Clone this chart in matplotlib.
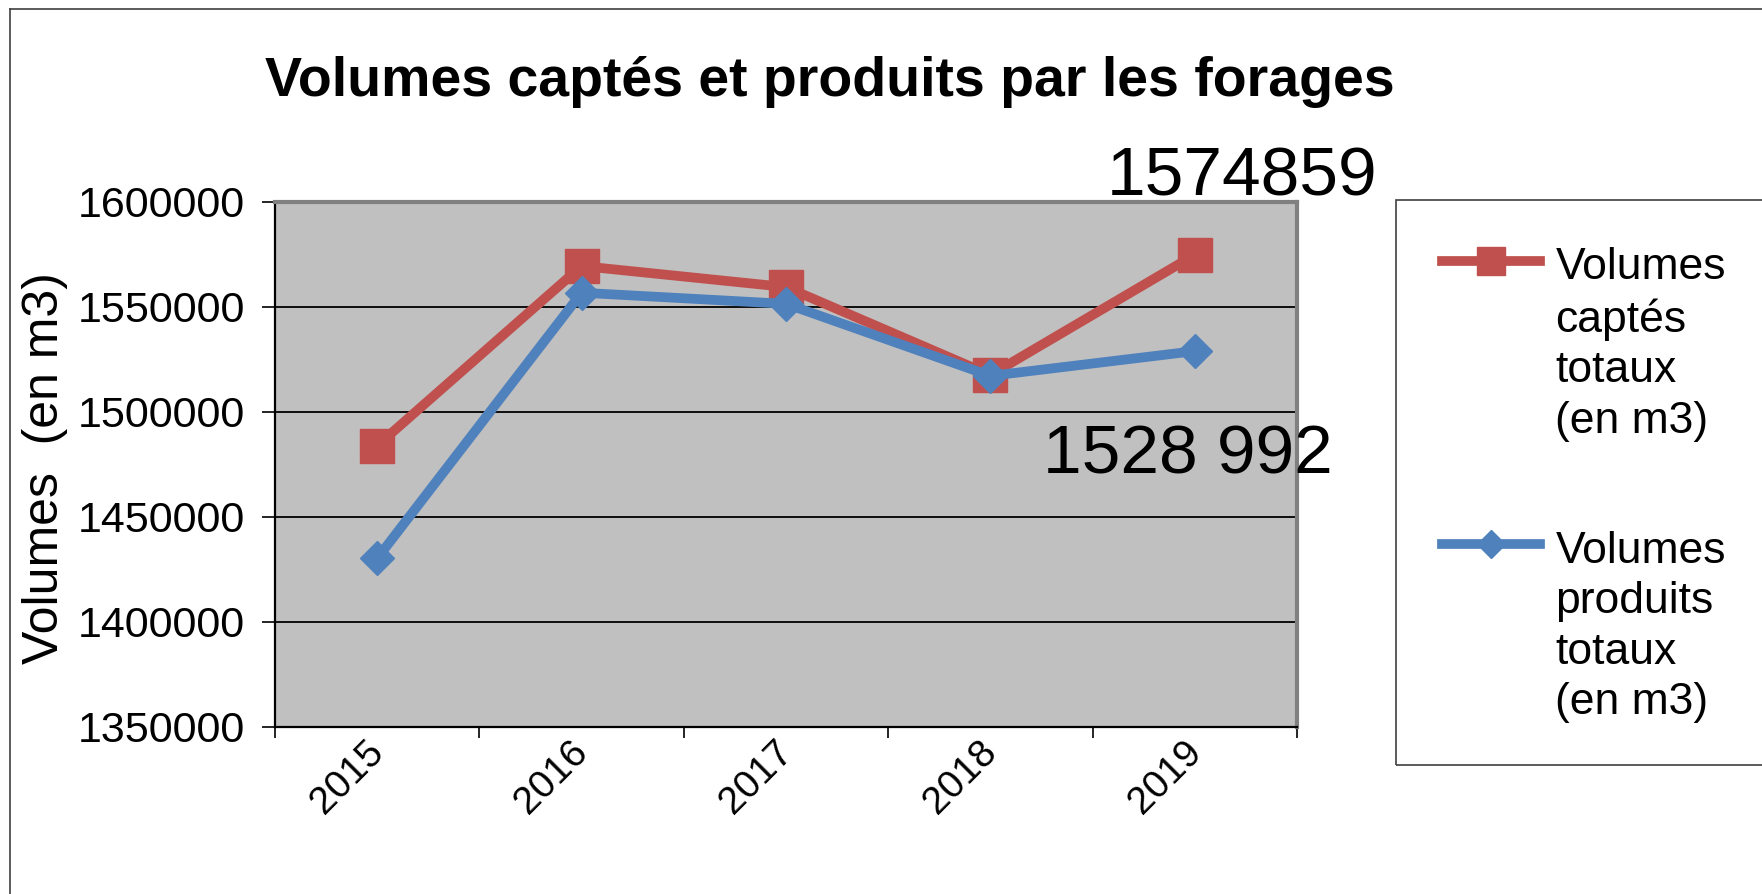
import numpy as np
import matplotlib
matplotlib.use("Agg")
import matplotlib.pyplot as plt
from matplotlib.legend_handler import HandlerLine2D
from matplotlib.lines import Line2D
from matplotlib.patches import Rectangle
from matplotlib.transforms import ScaledTranslation

# ---- data ----
years = ["2015", "2016", "2017", "2018", "2019"]
captes = [1484000, 1569500, 1559500, 1517600, 1574859]
produits = [1430300, 1556800, 1551500, 1517200, 1528992]
series_labels = ["Volumes\ncaptés\ntotaux\n(en m3)", "Volumes\nproduits\ntotaux\n(en m3)"]
end_labels = ["1574859", "1528 992"]
yticks = [1350000, 1400000, 1450000, 1500000, 1550000, 1600000]
title = "Volumes captés et produits par les forages"
ylabel = "Volumes  (en m3)"

plt.rcParams['font.family'] = ['Liberation Sans', 'DejaVu Sans']

W, H = 1762, 894
fig = plt.figure(figsize=(W / 100, H / 100), dpi=100)
ax = fig.add_axes([275 / W, 1 - 727 / H, (1297 - 275) / W, (727 - 202) / H])
ax.set_facecolor('#C0C0C0')
ax.set_axisbelow(True)

red = '#C0504D'
blue = '#4F81BD'
x = np.arange(len(years))
l1, = ax.plot(x, captes, color=red, lw=7, marker='s', ms=25, zorder=3)
l2, = ax.plot(x, produits, color=blue, lw=7, marker='D', ms=17.5, zorder=4)

ax.set_xlim(-0.5, len(years) - 0.5)
ax.set_ylim(yticks[0], yticks[-1])
ax.set_yticks(yticks)
ax.set_yticklabels([str(v) for v in yticks], fontsize=31)
ax.tick_params(axis='y', length=9.5, width=1.2, pad=12, color='black')

ax.set_xticks(np.arange(-0.5, len(years)), labels=[""] * (len(years) + 1))
ax.set_xticks(x, minor=True)
ax.set_xticklabels(years, minor=True, rotation=45, ha='right', fontsize=28)
ax.tick_params(axis='x', which='major', length=8, width=1.2, color='black')
ax.tick_params(axis='x', which='minor', length=0, pad=5)
for lbl in ax.get_xticklabels(minor=True):
    lbl.set_transform(lbl.get_transform() + ScaledTranslation(10 / 72, 0, fig.dpi_scale_trans))

ax.grid(axis='y', color='black', lw=1.3)
for s in ['top', 'right']:
    ax.spines[s].set_color('#808080')
    ax.spines[s].set_linewidth(3)
for s in ['left', 'bottom']:
    ax.spines[s].set_color('black')
    ax.spines[s].set_linewidth(1.6)

# end-of-series labels
ax.annotate(end_labels[0], xy=(x[-1], captes[-1]), xytext=(34, 56), textcoords='offset points',
            ha='center', va='center', fontsize=50, annotation_clip=False)
ax.annotate(end_labels[1], xy=(x[-1], produits[-1]), xytext=(-5, -75), textcoords='offset points',
            ha='center', va='center', fontsize=50, annotation_clip=False)

# title & y label
fig.text(830 / W, 1 - 82 / H, title, fontsize=40, fontweight='bold', ha='center', va='center')
fig.text(45 / W, 1 - 468 / H, ylabel, rotation=90, fontsize=36, ha='center', va='center')

# outer chart border (left & top visible)
fig.add_artist(Line2D([10 / W, 10 / W], [0, 1 - 9 / H], transform=fig.transFigure, color='#404040', lw=1.2))
fig.add_artist(Line2D([10 / W, 1], [1 - 9 / H, 1 - 9 / H], transform=fig.transFigure, color='#404040', lw=1.2))

# legend frame
fig.add_artist(Rectangle((1396 / W, 1 - 765 / H), (1762 - 1396 + 20) / W, (765 - 200) / H,
                         transform=fig.transFigure, fill=False, ec='#404040', lw=1.2, clip_on=False))


class TopHandler(HandlerLine2D):
    def __init__(self, shift, **kw):
        super().__init__(**kw)
        self.shift = shift

    def create_artists(self, legend, orig_handle, xdescent, ydescent, width, height, fontsize, trans):
        arts = super().create_artists(legend, orig_handle, xdescent, ydescent, width, height, fontsize, trans)
        for a in arts:
            a.set_ydata(np.asarray(a.get_ydata(), float) + self.shift)
        return arts


leg = ax.legend([l1, l2], series_labels,
                handler_map={l1: TopHandler(60), l2: TopHandler(60)},
                loc='upper left', bbox_to_anchor=(1442 / W, 1 - 247 / H), bbox_transform=fig.transFigure,
                frameon=False, fontsize=32, handlelength=2.2, handletextpad=0.35, labelspacing=2.0,
                borderpad=0, borderaxespad=0, markerscale=0.8)
for t in leg.get_texts():
    t.set_linespacing(1.3)

fig.savefig("out.png", dpi=100)
